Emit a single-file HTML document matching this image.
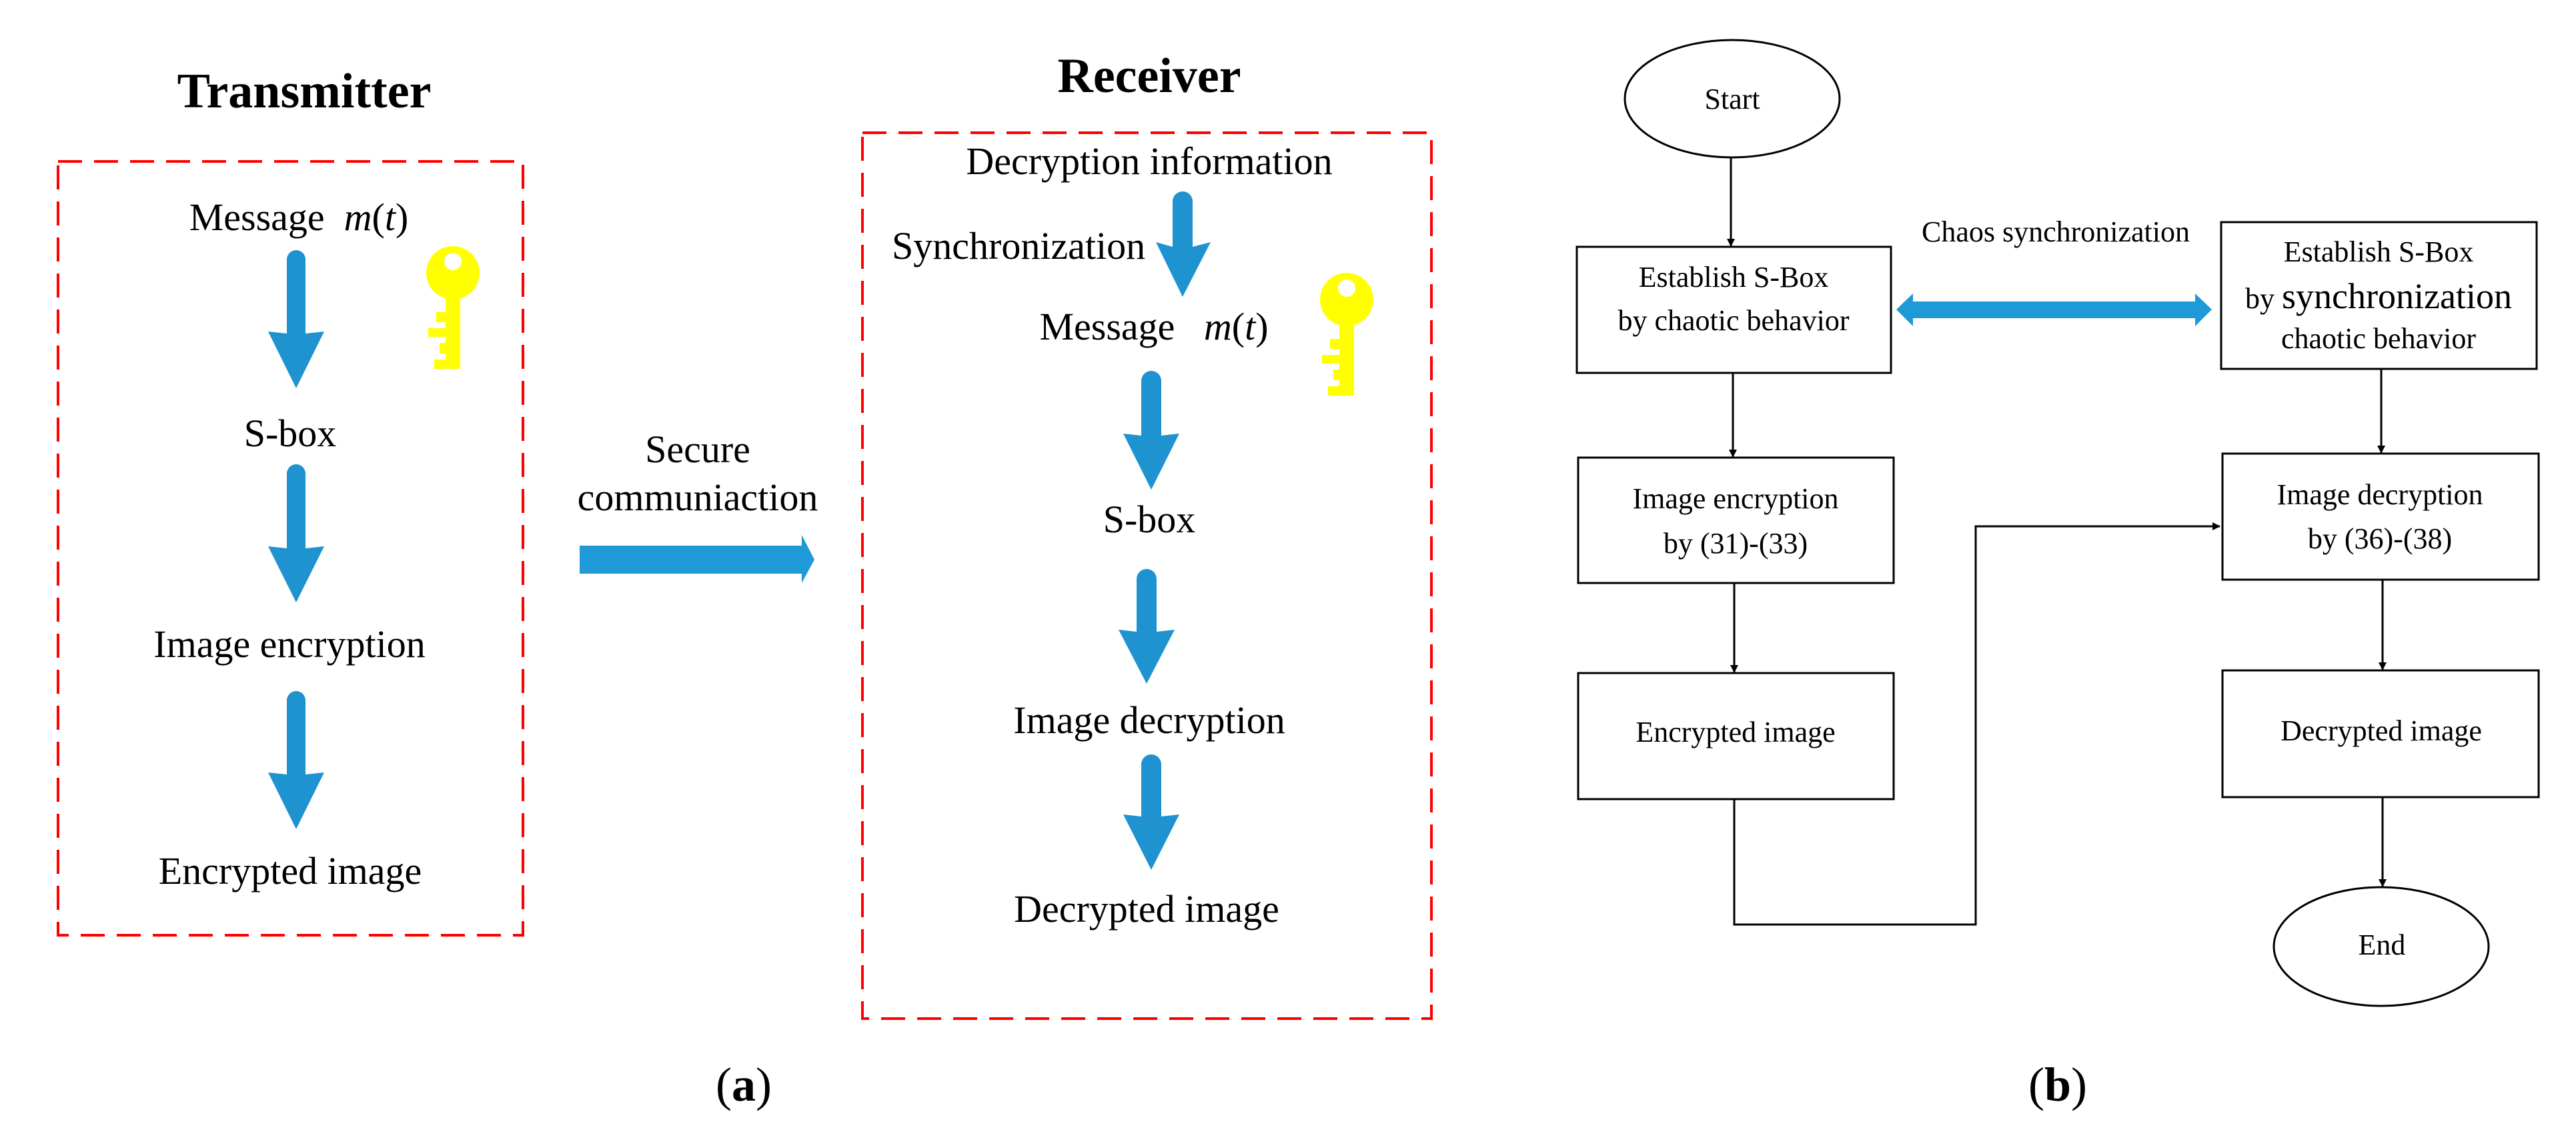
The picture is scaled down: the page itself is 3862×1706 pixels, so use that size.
<!DOCTYPE html>
<html><head><meta charset="utf-8"><style>
html,body{margin:0;padding:0;background:#fff}
svg{display:block}
svg text{font-family:"Liberation Serif","DejaVu Serif",serif;fill:#000}
</style></head><body>
<svg width="3862" height="1706" viewBox="0 0 3862 1706" xmlns="http://www.w3.org/2000/svg" font-family="'Liberation Serif', 'DejaVu Serif', serif">
<defs>
<g id="key">
<circle cx="679" cy="409" r="40" fill="#ffff00"/>
<circle cx="679" cy="392" r="13" fill="#fff"/>
<rect x="668" y="440" width="22" height="113" fill="#ffff00"/>
<rect x="654" y="468" width="16" height="15" fill="#ffff00"/>
<rect x="642" y="492" width="28" height="13" fill="#ffff00"/>
<rect x="659" y="514" width="11" height="16" fill="#ffff00"/>
<rect x="651" y="539" width="19" height="14" fill="#ffff00"/>
</g>
<marker id="ah" markerWidth="12" markerHeight="12" refX="11" refY="6" orient="auto" markerUnits="userSpaceOnUse" viewBox="0 0 12 12"><path d="M0,0 L12,6 L0,12 z" fill="#000"/></marker>
</defs>

<!-- Panel (a) -->
<text x="456" y="161" font-size="74" font-weight="bold" text-anchor="middle">Transmitter</text>
<rect x="87" y="242" width="697" height="1160" fill="none" stroke="#ff0000" stroke-width="4" stroke-dasharray="36 18"/>
<text x="448" y="345" font-size="58" text-anchor="middle">Message&#160;&#160;<tspan font-style="italic">m</tspan>(<tspan font-style="italic">t</tspan>)</text>
<use href="#key"/>
<g fill="#1e93cf">
<path d="M430,389 a14,14 0 0 1 28,0 V500 L486,497 L444,582 L402,497 L430,500 Z"/>
<path d="M430,710 a14,14 0 0 1 28,0 V822 L486,819 L444,903 L402,819 L430,822 Z"/>
<path d="M430,1050 a14,14 0 0 1 28,0 V1161 L486,1158 L444,1243 L402,1158 L430,1161 Z"/>
</g>
<text x="435" y="669" font-size="58" text-anchor="middle">S-box</text>
<text x="434" y="985" font-size="58" text-anchor="middle">Image encryption</text>
<text x="435" y="1325" font-size="58" text-anchor="middle">Encrypted image</text>

<text x="1046" y="693" font-size="58" text-anchor="middle">Secure</text>
<text x="1046" y="765" font-size="58" text-anchor="middle">communiaction</text>
<path d="M869,818 H1202 V802 L1221,839 L1202,874 V860 H869 Z" fill="#1e9ad6"/>

<text x="1723" y="138" font-size="74" font-weight="bold" text-anchor="middle">Receiver</text>
<rect x="1293" y="199" width="853" height="1328" fill="none" stroke="#ff0000" stroke-width="4" stroke-dasharray="36 18"/>
<text x="1723" y="261" font-size="58" text-anchor="middle">Decryption information</text>
<text x="1337" y="388" font-size="58">Synchronization</text>
<text x="1730" y="509" font-size="58" text-anchor="middle">Message&#160;&#160;&#160;<tspan font-style="italic">m</tspan>(<tspan font-style="italic">t</tspan>)</text>
<use href="#key" transform="translate(1340,40)"/>
<g fill="#1e93cf">
<path d="M1758,302 a15,15 0 0 1 30,0 V370 L1815,363 L1773,445 L1733,363 L1758,370 Z"/>
<path d="M1711,571 a15,15 0 0 1 30,0 V653 L1768,650 L1726,734 L1684,650 L1711,653 Z"/>
<path d="M1704,868 a15,15 0 0 1 30,0 V947 L1761,944 L1719,1025 L1677,944 L1704,947 Z"/>
<path d="M1711,1146 a15,15 0 0 1 30,0 V1224 L1768,1221 L1726,1304 L1684,1221 L1711,1224 Z"/>
</g>
<text x="1723" y="798" font-size="58" text-anchor="middle">S-box</text>
<text x="1723" y="1099" font-size="58" text-anchor="middle">Image decryption</text>
<text x="1719" y="1382" font-size="58" text-anchor="middle">Decrypted image</text>

<text x="1115" y="1650" font-size="72" text-anchor="middle">(<tspan font-weight="bold">a</tspan>)</text>

<!-- Panel (b) -->
<g fill="none" stroke="#000" stroke-width="3">
<ellipse cx="2597" cy="148" rx="161" ry="88"/>
<rect x="2364" y="370" width="471" height="189"/>
<rect x="2366" y="686" width="473" height="188"/>
<rect x="2366" y="1009" width="473" height="189"/>
<rect x="3330" y="333" width="473" height="220"/>
<rect x="3332" y="680" width="474" height="189"/>
<rect x="3332" y="1005" width="474" height="190"/>
<ellipse cx="3570" cy="1419" rx="161" ry="89"/>
<line x1="2595" y1="236" x2="2595" y2="369" marker-end="url(#ah)"/>
<line x1="2598" y1="559" x2="2598" y2="685" marker-end="url(#ah)"/>
<line x1="2600" y1="874" x2="2600" y2="1008" marker-end="url(#ah)"/>
<line x1="3570" y1="553" x2="3570" y2="679" marker-end="url(#ah)"/>
<line x1="3572" y1="869" x2="3572" y2="1004" marker-end="url(#ah)"/>
<line x1="3572" y1="1195" x2="3572" y2="1329" marker-end="url(#ah)"/>
<polyline points="2600,1198 2600,1386 2962,1386 2962,789 3328,789" marker-end="url(#ah)"/>
</g>
<path d="M2843,464 L2868,440 V452 H3291 V440 L3316,464 L3291,489 V477 H2868 V489 Z" fill="#1e9ad6"/>
<g font-size="44" text-anchor="middle">
<text x="2597" y="163">Start</text>
<text x="2599" y="430">Establish S-Box</text>
<text x="2599" y="495">by chaotic behavior</text>
<text x="2602" y="762">Image encryption</text>
<text x="2602" y="829">by (31)-(33)</text>
<text x="2602" y="1112">Encrypted image</text>
<text x="3082" y="362">Chaos synchronization</text>
<text x="3566" y="392">Establish S-Box</text>
<text x="3566" y="462">by <tspan font-size="54">synchronization</tspan></text>
<text x="3566" y="522">chaotic behavior</text>
<text x="3568" y="756">Image decryption</text>
<text x="3568" y="822">by (36)-(38)</text>
<text x="3570" y="1110">Decrypted image</text>
<text x="3571" y="1431">End</text>
</g>
<text x="3085" y="1650" font-size="72" text-anchor="middle">(<tspan font-weight="bold">b</tspan>)</text>
</svg>
</body></html>
